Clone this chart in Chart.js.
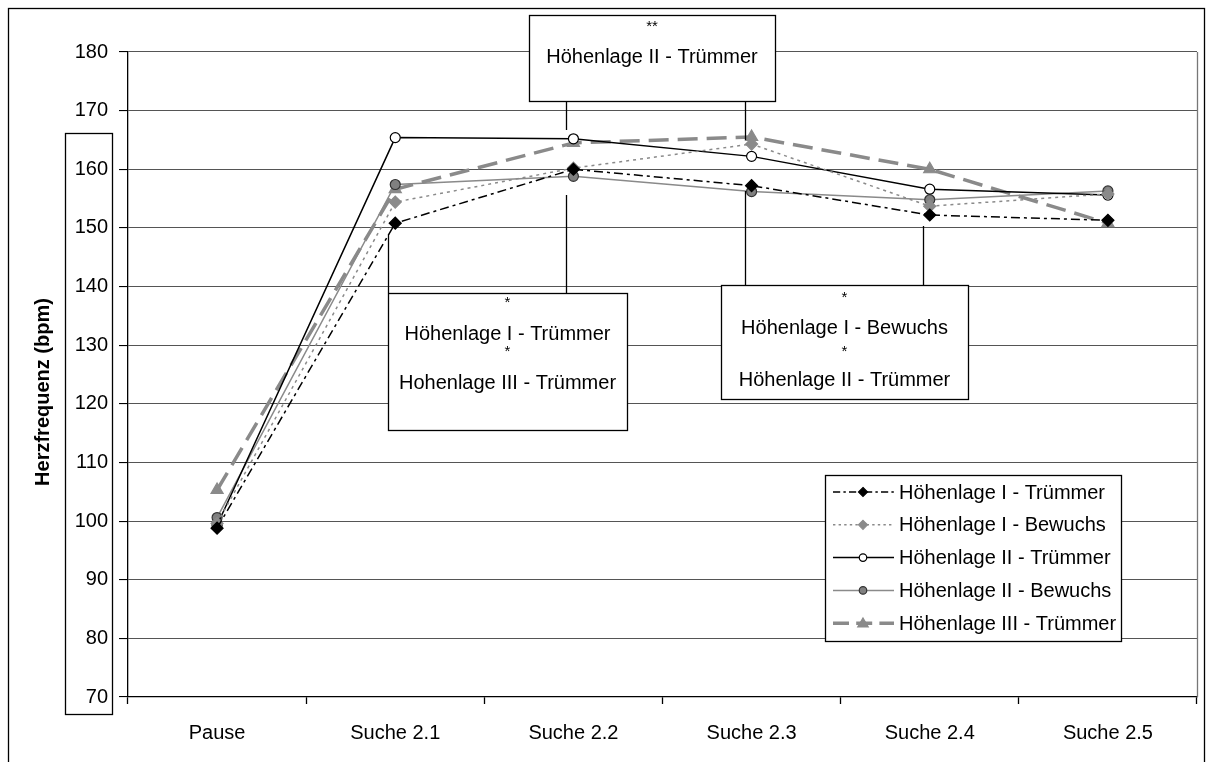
<!DOCTYPE html>
<html>
<head>
<meta charset="utf-8">
<script src="https://cdn.jsdelivr.net/npm/chart.js@4/dist/chart.umd.min.js"></script>
<style>
  html, body { margin: 0; padding: 0; background: #fff; }
  #chart { display: block; }
</style>
</head>
<body>
<canvas id="chart" width="1213" height="762"></canvas>
<script>
const CATEGORIES = ['Pause', 'Suche 2.1', 'Suche 2.2', 'Suche 2.3', 'Suche 2.4', 'Suche 2.5'];

const SERIES_NAMES = [
  'Höhenlage I - Trümmer',
  'Höhenlage I - Bewuchs',
  'Höhenlage II - Trümmer',
  'Höhenlage II - Bewuchs',
  'Höhenlage III - Trümmer'
];

const H1_TRUEMMER = [98.8, 150.8, 160.0, 157.2, 152.2, 151.3];
const H1_BEWUCHS = [99.6, 154.4, 160.2, 164.3, 153.7, 155.8];
const H2_TRUEMMER = [99.3, 165.4, 165.2, 162.2, 156.6, 155.6];
const H2_BEWUCHS = [100.6, 157.4, 158.8, 156.2, 154.8, 156.3];
const H3_TRUEMMER = [105.3, 156.6, 164.5, 165.5, 160.0, 150.8];

const Y_MIN = 70;
const Y_MAX = 180;
const Y_STEP = 10;
const Y_TITLE = 'Herzfrequenz (bpm)';

// significance notes: category index the connectors point to + text lines
const NOTE_TOP = {cats: [2, 3], lines: ['**', 'Höhenlage II - Trümmer']};
const NOTE_LEFT = {cats: [1, 2], lines: ['*', 'Höhenlage I - Trümmer', '*', 'Hohenlage III - Trümmer']};
const NOTE_RIGHT = {cats: [3, 4], lines: ['*', 'Höhenlage I - Bewuchs', '*', 'Höhenlage II - Trümmer']};

const FONT = '"Liberation Sans", Arial, sans-serif';
const GREY = '#8a8a8a';

const STYLES = [
  {color: '#000', dash: [9, 4, 3, 4], width: 1.5, point: 'rectRot', fill: '#000', border: '#000', radius: 6},
  {color: GREY, dash: [3, 4], width: 1.5, point: 'rectRot', fill: GREY, border: GREY, radius: 6},
  {color: '#000', dash: [], width: 1.5, point: 'circle', fill: '#fff', border: '#000', radius: 5},
  {color: GREY, dash: [], width: 1.5, point: 'circle', fill: '#808080', border: '#333', radius: 5},
  {color: GREY, dash: [20, 9], width: 3.5, point: 'triangle', fill: GREY, border: GREY, radius: 7}
];

const SERIES = [H1_TRUEMMER, H1_BEWUCHS, H2_TRUEMMER, H2_BEWUCHS, H3_TRUEMMER];

const datasets = SERIES.map((data, i) => ({
  label: SERIES_NAMES[i],
  data,
  borderColor: STYLES[i].color,
  borderDash: STYLES[i].dash,
  borderWidth: STYLES[i].width,
  pointStyle: STYLES[i].point,
  pointRadius: STYLES[i].radius,
  pointBackgroundColor: STYLES[i].fill,
  pointBorderColor: STYLES[i].border,
  pointBorderWidth: 1.2,
  tension: 0,
  fill: false
}));

function drawMarker(ctx, style, x, y) {
  const r = style.radius * 0.75;
  ctx.save();
  ctx.setLineDash([]);
  ctx.fillStyle = style.fill;
  ctx.strokeStyle = style.border;
  ctx.lineWidth = 1.2;
  ctx.beginPath();
  if (style.point === 'circle') {
    ctx.arc(x, y, r, 0, Math.PI * 2);
  } else if (style.point === 'rectRot') {
    ctx.moveTo(x, y - r);
    ctx.lineTo(x + r, y);
    ctx.lineTo(x, y + r);
    ctx.lineTo(x - r, y);
    ctx.closePath();
  } else {
    ctx.moveTo(x, y - r);
    ctx.lineTo(x + r, y + r * 0.7);
    ctx.lineTo(x - r, y + r * 0.7);
    ctx.closePath();
  }
  ctx.fill();
  ctx.stroke();
  ctx.restore();
}

function drawNote(chart, note, box) {
  const ctx = chart.ctx;
  const x = chart.scales.x;
  ctx.save();
  ctx.strokeStyle = '#000';
  ctx.lineWidth = 1.3;
  note.cats.forEach((c, k) => {
    const px = Math.round(x.getPixelForValue(c)) - 7 + 0.5;
    ctx.beginPath();
    ctx.moveTo(px, box.lineFrom[k]);
    ctx.lineTo(px, box.lineTo[k]);
    ctx.stroke();
  });
  ctx.fillStyle = '#fff';
  ctx.fillRect(box.x, box.y, box.w, box.h);
  ctx.strokeRect(box.x + 0.5, box.y + 0.5, box.w, box.h);
  ctx.fillStyle = '#000';
  ctx.textAlign = 'center';
  ctx.textBaseline = 'middle';
  note.lines.forEach((t, k) => {
    ctx.font = (t.startsWith('*') ? '15px ' : '20px ') + FONT;
    ctx.fillText(t, box.x + box.w / 2, box.rows[k]);
  });
  ctx.restore();
}

const decorPlugin = {
  id: 'decor',
  beforeDraw(chart) {
    const ctx = chart.ctx;
    ctx.save();
    ctx.fillStyle = '#fff';
    ctx.fillRect(0, 0, chart.width, chart.height);
    ctx.restore();
  },
  afterDraw(chart) {
    const ctx = chart.ctx;
    const area = chart.chartArea;
    ctx.save();
    // outer frame
    ctx.strokeStyle = '#000';
    ctx.lineWidth = 1.3;
    ctx.strokeRect(8.5, 8.5, 1196, 780);
    // right border of plot area
    ctx.strokeStyle = '#777';
    ctx.beginPath();
    ctx.moveTo(Math.round(area.right) + 0.5, area.top);
    ctx.lineTo(Math.round(area.right) + 0.5, area.bottom);
    ctx.stroke();
    // box around the y tick labels
    ctx.strokeStyle = '#000';
    ctx.strokeRect(65.5, 133.5, 47, 581);
    // y title
    ctx.translate(43, 392);
    ctx.rotate(-Math.PI / 2);
    ctx.fillStyle = '#000';
    ctx.font = 'bold 20px ' + FONT;
    ctx.textAlign = 'center';
    ctx.textBaseline = 'middle';
    ctx.fillText(Y_TITLE, 0, 0);
    ctx.restore();

    drawNote(chart, NOTE_TOP, {x: 529, y: 15, w: 246, h: 86, rows: [27, 57], lineFrom: [101, 101], lineTo: [130, 140]});
    drawNote(chart, NOTE_LEFT, {x: 388, y: 293, w: 239, h: 137, rows: [303, 334, 352, 383], lineFrom: [234, 195], lineTo: [293, 293]});
    drawNote(chart, NOTE_RIGHT, {x: 721, y: 285, w: 247, h: 114, rows: [298, 328, 352, 380], lineFrom: [191, 226], lineTo: [285, 285]});

    // legend
    ctx.save();
    ctx.fillStyle = '#fff';
    ctx.fillRect(825, 475, 296, 166);
    ctx.strokeStyle = '#000';
    ctx.lineWidth = 1.3;
    ctx.strokeRect(825.5, 475.5, 296, 166);
    SERIES_NAMES.forEach((name, i) => {
      const st = STYLES[i];
      const y = 492 + i * 32.8;
      ctx.save();
      ctx.strokeStyle = st.color;
      ctx.lineWidth = st.width;
      ctx.setLineDash(st.dash.length ? st.dash.map((d) => d * 0.8) : []);
      ctx.beginPath();
      ctx.moveTo(833, y);
      ctx.lineTo(894, y);
      ctx.stroke();
      ctx.restore();
      drawMarker(ctx, st, 863, y);
      ctx.fillStyle = '#000';
      ctx.font = '20px ' + FONT;
      ctx.textAlign = 'left';
      ctx.textBaseline = 'middle';
      ctx.fillText(name, 899, y + 1);
    });
    ctx.restore();
  }
};

new Chart(document.getElementById('chart'), {
  type: 'line',
  data: {labels: CATEGORIES, datasets},
  plugins: [decorPlugin],
  options: {
    responsive: false,
    animation: false,
    events: [],
    layout: {padding: {left: 0, top: 52, right: 16, bottom: 0}},
    plugins: {legend: {display: false}, tooltip: {enabled: false}, title: {display: false}},
    scales: {
      x: {
        offset: true,
        afterFit(scale) { scale.height = 65; },
        grid: {offset: true, drawOnChartArea: false, tickLength: 7, tickColor: '#000', tickWidth: 1.3},
        border: {color: '#000', width: 1.3},
        ticks: {color: '#000', font: {family: FONT, size: 20}, padding: 17, maxRotation: 0}
      },
      y: {
        min: Y_MIN,
        max: Y_MAX,
        afterFit(scale) { scale.width = 128; },
        grid: {color: '#555', lineWidth: 1.1, tickLength: 9, tickColor: '#000'},
        border: {color: '#000', width: 1.3},
        ticks: {stepSize: Y_STEP, color: '#000', font: {family: FONT, size: 20}, padding: 11}
      }
    }
  }
});
</script>
</body>
</html>
